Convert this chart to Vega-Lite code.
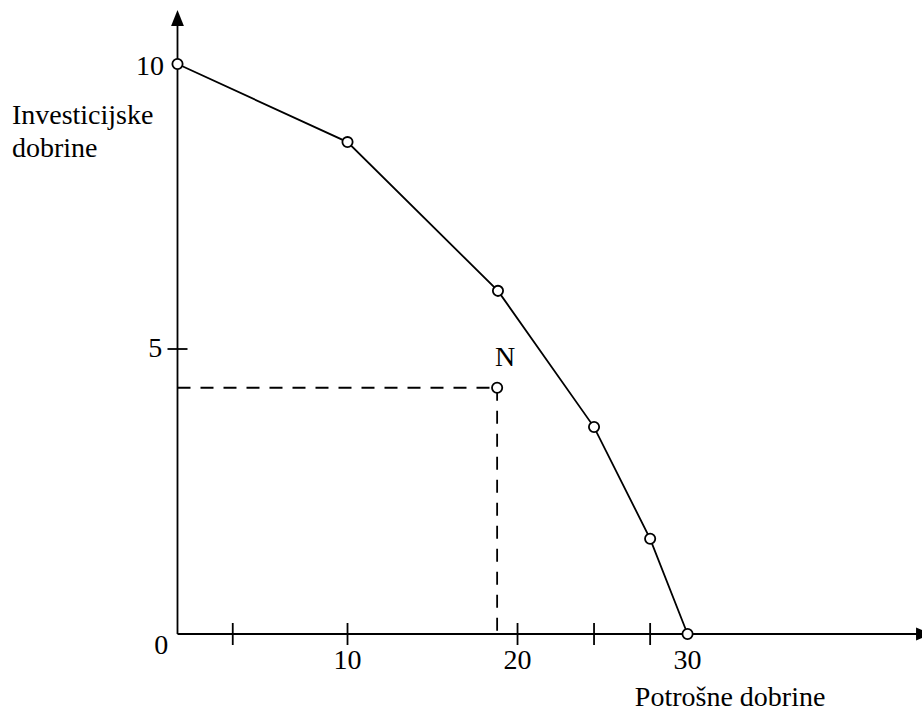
{
  "$schema": "https://vega.github.io/schema/vega-lite/v6.json",
  "width": 922,
  "height": 713,
  "padding": 0,
  "autosize": {"type": "none"},
  "background": "white",
  "config": {"view": {"stroke": null}, "font": "Liberation Serif"},
  "datasets": {
    "curve": [
      {"c": 0, "i": 10},
      {"c": 10, "i": 8.63},
      {"c": 18.85, "i": 6.02},
      {"c": 24.5, "i": 3.63},
      {"c": 27.8, "i": 1.67},
      {"c": 30, "i": 0}
    ],
    "npoint": [{"c": 18.8, "i": 4.32, "name": "N"}],
    "axes": [
      {"x": 0, "y": 0, "x2": 0, "y2": 10.67},
      {"x": 0, "y": 0, "x2": 44.5, "y2": 0}
    ],
    "dashes": [
      {"x": 0, "y": 4.32, "x2": 18.8, "y2": 4.32},
      {"x": 18.8, "y": 4.32, "x2": 18.8, "y2": 0}
    ],
    "xticks": [{"x": 3.25, "y": 0}, {"x": 10, "y": 0}, {"x": 20, "y": 0}, {"x": 24.5, "y": 0}, {"x": 27.8, "y": 0}],
    "yticks": [{"x": 0, "y": 5}],
    "arrows": [
      {"x": 0, "y": 10.807, "dir": "up"},
      {"x": 43.91, "y": 0, "dir": "right"}
    ],
    "xlabels": [{"x": 10, "y": -0.47, "t": "10"}, {"x": 20, "y": -0.47, "t": "20"}, {"x": 30, "y": -0.47, "t": "30"}],
    "ylabels": [{"x": -0.8, "y": 9.95, "t": "10"}, {"x": -0.9, "y": 5, "t": "5"}, {"x": -0.55, "y": -0.21, "t": "0"}],
    "titles": [
      {"x": 26.9, "y": -1.27, "t": "Potrošne dobrine"},
      {"x": -9.74, "y": 8.95, "t": "Investicijske"},
      {"x": -9.74, "y": 8.37, "t": "dobrine"}
    ]
  },
  "encoding": {},
  "layer": [
    {
      "data": {"name": "axes"},
      "mark": {"type": "rule", "color": "black", "strokeWidth": 1.8},
      "encoding": {
        "x": {"field": "x", "type": "quantitative", "scale": {"domain": [-10.44, 43.79], "nice": false, "zero": false}, "axis": null},
        "y": {"field": "y", "type": "quantitative", "scale": {"domain": [-1.386, 11.123], "nice": false, "zero": false}, "axis": null},
        "x2": {"field": "x2"},
        "y2": {"field": "y2"}
      }
    },
    {
      "data": {"name": "dashes"},
      "mark": {"type": "rule", "color": "black", "strokeWidth": 1.8, "strokeDash": [13, 10]},
      "encoding": {
        "x": {"field": "x", "type": "quantitative"},
        "y": {"field": "y", "type": "quantitative"},
        "x2": {"field": "x2"},
        "y2": {"field": "y2"}
      }
    },
    {
      "data": {"name": "xticks"},
      "mark": {"type": "tick", "orient": "vertical", "color": "black", "size": 22, "thickness": 1.8, "opacity": 1},
      "encoding": {
        "x": {"field": "x", "type": "quantitative"},
        "y": {"field": "y", "type": "quantitative"}
      }
    },
    {
      "data": {"name": "yticks"},
      "mark": {"type": "tick", "orient": "horizontal", "color": "black", "size": 20, "thickness": 1.8, "opacity": 1},
      "encoding": {
        "x": {"field": "x", "type": "quantitative"},
        "y": {"field": "y", "type": "quantitative"}
      }
    },
    {
      "data": {"name": "curve"},
      "mark": {"type": "line", "color": "black", "strokeWidth": 1.8},
      "encoding": {
        "x": {"field": "c", "type": "quantitative"},
        "y": {"field": "i", "type": "quantitative"}
      }
    },
    {
      "data": {"name": "curve"},
      "mark": {"type": "point", "shape": "circle", "size": 105, "filled": false, "fill": "white", "fillOpacity": 1, "stroke": "black", "strokeWidth": 1.8, "opacity": 1},
      "encoding": {
        "x": {"field": "c", "type": "quantitative"},
        "y": {"field": "i", "type": "quantitative"}
      }
    },
    {
      "data": {"name": "npoint"},
      "mark": {"type": "point", "shape": "circle", "size": 105, "filled": false, "fill": "white", "fillOpacity": 1, "stroke": "black", "strokeWidth": 1.8, "opacity": 1},
      "encoding": {
        "x": {"field": "c", "type": "quantitative"},
        "y": {"field": "i", "type": "quantitative"}
      }
    },
    {
      "data": {"name": "npoint"},
      "mark": {"type": "text", "fontSize": 28, "align": "center", "baseline": "alphabetic", "dx": 8, "dy": -22, "color": "black"},
      "encoding": {
        "x": {"field": "c", "type": "quantitative"},
        "y": {"field": "i", "type": "quantitative"},
        "text": {"field": "name"}
      }
    },
    {
      "data": {"name": "arrows"},
      "transform": [{"filter": "datum.dir === 'up'"}],
      "mark": {"type": "point", "shape": "M0,-1L0.8,1L-0.8,1Z", "size": 256, "filled": true, "color": "black", "opacity": 1},
      "encoding": {
        "x": {"field": "x", "type": "quantitative"},
        "y": {"field": "y", "type": "quantitative"}
      }
    },
    {
      "data": {"name": "arrows"},
      "transform": [{"filter": "datum.dir === 'right'"}],
      "mark": {"type": "point", "shape": "M1,0L-1,-0.8L-1,0.8Z", "size": 256, "filled": true, "color": "black", "opacity": 1},
      "encoding": {
        "x": {"field": "x", "type": "quantitative"},
        "y": {"field": "y", "type": "quantitative"}
      }
    },
    {
      "data": {"name": "xlabels"},
      "mark": {"type": "text", "fontSize": 28, "align": "center", "baseline": "middle", "color": "black"},
      "encoding": {
        "x": {"field": "x", "type": "quantitative"},
        "y": {"field": "y", "type": "quantitative"},
        "text": {"field": "t"}
      }
    },
    {
      "data": {"name": "ylabels"},
      "mark": {"type": "text", "fontSize": 28, "align": "right", "baseline": "middle", "color": "black"},
      "encoding": {
        "x": {"field": "x", "type": "quantitative"},
        "y": {"field": "y", "type": "quantitative"},
        "text": {"field": "t"}
      }
    },
    {
      "data": {"name": "titles"},
      "mark": {"type": "text", "fontSize": 28, "align": "left", "baseline": "alphabetic", "color": "black"},
      "encoding": {
        "x": {"field": "x", "type": "quantitative"},
        "y": {"field": "y", "type": "quantitative"},
        "text": {"field": "t"}
      }
    }
  ]
}
